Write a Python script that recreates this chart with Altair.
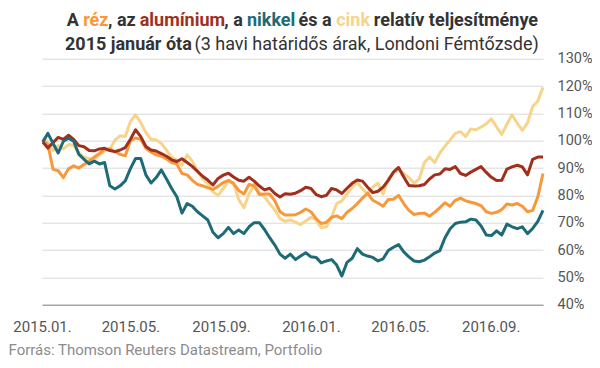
import altair as alt
import pandas as pd

# Weekly observations, indexed to 100 = early January 2015
dates = pd.date_range("2015-01-02", periods=98, freq="7D").strftime("%Y-%m-%d").tolist()

rez = [100.3, 98.5, 89.5, 89, 86.5, 89.7, 90.8, 90, 91.3, 92.5,
       94, 95.3, 96.8, 97, 96, 95, 94.5, 100, 101, 100.5,
       97.2, 95.8, 94.8, 94.3, 93.3, 92, 91.5, 88, 87.5, 85.5,
       84, 83.5, 82.8, 82.2, 83.3, 84.7, 85.5, 84.3, 81.8, 80.5,
       84, 83.5, 80.3, 80.5, 80.5, 78, 74, 72.8, 72.8, 72.9,
       73.8, 75, 74, 71.5, 69.7, 70.1, 72, 72.5, 71.5, 73.8,
       75.2, 77, 79, 80.8, 78.2, 77.2, 76, 78.5, 78.6, 80,
       77, 74.5, 73, 73.4, 73.5, 72.4, 73.8, 75.5, 77.3, 76,
       78.2, 79, 78, 77.5, 77, 76.2, 74, 73.4, 73.8, 74.8,
       76.8, 76.5, 77, 76, 74, 74.5, 79.5, 88]

aluminium = [99.5, 97.3, 99.3, 101.2, 100.5, 102, 100.5, 98.2, 97.8, 96.4,
             96.3, 97, 97.2, 96.4, 96, 96.6, 97.5, 100.5, 104, 101.5,
             97.9, 96.6, 96.2, 95.3, 94.3, 93, 92.4, 93.4, 92, 90.6,
             88.8, 87, 85.6, 83.8, 86.2, 87.4, 88.1, 86.7, 85.5, 85.2,
             86.6, 85.2, 83.4, 82, 82.6, 80.7, 79.4, 80.6, 80.4, 80.8,
             81.7, 83, 82.5, 80.3, 79.5, 80, 82.5, 82, 80.7, 82.6,
             84.4, 85.6, 85.2, 83, 81, 81.5, 83, 85.5, 88.5, 90.2,
             86.7, 83.6, 83.4, 83.5, 84, 86, 87.5, 87.8, 89.7, 89.5,
             90.5, 88, 87.3, 88.5, 89.5, 90.5, 88.4, 86.6, 85.4, 85.5,
             89.6, 90.4, 91, 90.4, 87.5, 93.2, 94, 94]

nikkel = [99.5, 102.7, 99, 95.5, 99.8, 100.9, 99.8, 95, 93.2, 91.5,
          92.5, 91.5, 92, 83.5, 82.3, 83.5, 85.3, 89.8, 93.5, 93.5,
          87.5, 84.5, 86.5, 89.3, 86, 82.5, 79.5, 73.5, 77, 76,
          74, 72.5, 71, 66.5, 64.5, 66, 68.3, 66, 67.3, 66,
          68.5, 70, 70, 67.5, 64.5, 61.8, 58.5, 57, 58.5, 56.5,
          57.8, 59, 57.5, 57.3, 55.3, 56, 56.5, 54.5, 50.5, 55.5,
          57, 60.5, 58.5, 57.8, 57.3, 56, 56.8, 59.8, 61, 62,
          59.3, 57.5, 56, 55.7, 56.3, 57.5, 58.9, 59.8, 64.5, 67.8,
          69.7, 70.2, 70.3, 71.3, 71, 68.8, 65.5, 65.3, 67, 65.5,
          69.5, 68.5, 67.8, 68.5, 66, 67.9, 70.5, 74.5]

cink = [101, 99.5, 96.3, 98.2, 97, 98.6, 98.3, 95.5, 94, 93.5,
        93.2, 94.8, 96.3, 97, 100.2, 101.8, 101.5, 107, 109.5, 106.6,
        103, 100.5, 100.3, 99, 96.5, 94, 92.8, 91, 94.8, 92.5,
        89, 86, 84.3, 81.3, 80, 82.5, 85, 84.5, 78.5, 75.5,
        80.5, 84, 81, 79.5, 77, 74.6, 71.5, 70.5, 71, 70.2,
        69.3, 70.6, 72, 71, 68.2, 68.5, 72, 77, 78, 80.5,
        83, 84.8, 82.3, 80.5, 83, 84.5, 80.5, 86, 88.2, 89.3,
        88, 86.5, 84.5, 86, 92, 94, 92, 95.5, 98, 100.3,
        102.7, 103.3, 101.5, 104.3, 104, 105, 106.2, 108, 105, 102.3,
        106, 109.5, 106.4, 103.8, 106.5, 112.5, 114.5, 119.5]

metals = ["cink", "réz", "alumínium", "nikkel"]
series = {"réz": rez, "alumínium": aluminium, "nikkel": nikkel, "cink": cink}
colors = {"réz": "#f7993b", "alumínium": "#a0301e", "nikkel": "#1e6b77", "cink": "#f6d48b"}
y_ticks = [40, 50, 60, 70, 80, 90, 100, 110, 120, 130]
x_ticks = [(2015, 1), (2015, 5), (2015, 9), (2016, 1), (2016, 5), (2016, 9)]

DARK = "#333333"
FONT = "Roboto"

xscale = alt.Scale(type="utc",
                   domain=[alt.DateTime(year=2015, month=1, date=1, utc=True),
                           alt.DateTime(year=2016, month=11, date=11, utc=True)])
yscale = alt.Scale(domain=[40, 130], nice=False, zero=False)

xaxis = alt.Axis(values=[alt.DateTime(year=y, month=m, date=1, utc=True) for y, m in x_ticks],
                 labelExpr="utcFormat(datum.value, '%Y.%m.')", grid=False, ticks=False,
                 domain=True, domainColor="#8a8a8a", domainWidth=1,
                 labelFont=FONT, labelFontSize=15, labelColor="#555555",
                 labelPadding=15, title=None, labelFlush=False)
yaxis = alt.Axis(orient="right", values=y_ticks, labelExpr="datum.value + '%'",
                 grid=True, gridColor="#d9d9d9", gridWidth=1, domain=False, ticks=False,
                 labelFont=FONT, labelFontSize=14.5, labelColor="#555555",
                 labelPadding=14, labelAlign="left", title=None)

layers = []
for m in metals:
    df = pd.DataFrame({"date": dates, "value": series[m], "metal": m})
    layers.append(
        alt.Chart(df).mark_line(color=colors[m], strokeWidth=3, strokeJoin="round")
        .encode(x=alt.X("date:T", scale=xscale, axis=xaxis),
                y=alt.Y("value:Q", scale=yscale, axis=yaxis))
    )

# Title (multi-coloured first line)
BOLD = {"A": 0.662, " ": 0.248, "r": 0.354, "é": 0.531, "z": 0.5, ",": 0.218,
        "a": 0.542, "l": 0.254, "u": 0.552, "m": 0.872, "í": 0.254, "n": 0.553, "i": 0.254,
        "k": 0.514, "e": 0.531, "s": 0.521, "c": 0.518, "t": 0.33, "v": 0.49, "j": 0.25, "y": 0.48}
TS = 18


def width(s):
    return sum(BOLD.get(ch, 0.53) for ch in s) * TS


# (text, colour, trailing gap)
seg1 = [("A", DARK, " "), ("réz", colors["réz"], ""), (", az", DARK, " "),
        ("alumínium", colors["alumínium"], ""), (", a", DARK, " "), ("nikkel", colors["nikkel"], " "),
        ("és a", DARK, " "), ("cink", colors["cink"], " "), ("relatív teljesítménye", DARK, "")]

one = pd.DataFrame({"k": [0]})
total = sum(width(s) + width(g) for s, _, g in seg1)
x0 = 301 - 42 - total / 2
for s, c, g in seg1:
    layers.append(alt.Chart(one).mark_text(align="left", baseline="alphabetic", font=FONT,
                                           fontSize=TS, fontWeight="bold", color=c)
                  .encode(x=alt.value(x0), y=alt.value(-32.7), text=alt.value(s)))
    x0 += width(s) + width(g)

layers.append(alt.Chart(one).mark_text(align="left", baseline="alphabetic", font=FONT,
                                       fontSize=TS, fontWeight="bold", color=DARK)
              .encode(x=alt.value(23), y=alt.value(-8.2), text=alt.value("2015 január óta")))
layers.append(alt.Chart(one).mark_text(align="left", baseline="alphabetic", font=FONT,
                                       fontSize=TS, fontWeight="normal", color=DARK)
              .encode(x=alt.value(152.5), y=alt.value(-8.2),
                      text=alt.value("(3 havi határidős árak, Londoni Fémtőzsde)")))
layers.append(alt.Chart(one).mark_text(align="left", baseline="alphabetic", font=FONT,
                                       fontSize=15, color="#8c8c8c")
              .encode(x=alt.value(-33.5), y=alt.value(296.5),
                      text=alt.value("Forrás: Thomson Reuters Datastream, Portfolio")))

chart = alt.layer(*layers).properties(
    width=501, height=246,
    autosize="none",
    padding={"left": 34, "top": 50.7, "right": 49, "bottom": 55},
    background="white",
).configure_view(stroke=None)

chart.save("out.html", embed_options={"renderer": "svg", "actions": False})
